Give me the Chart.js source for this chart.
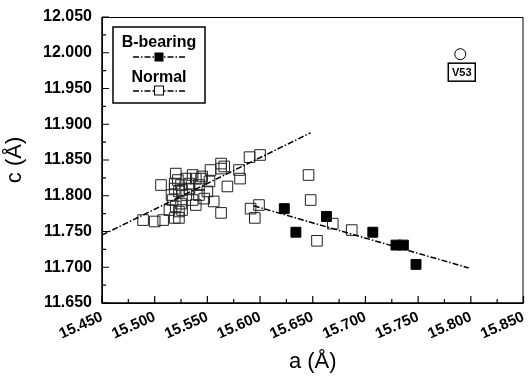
<!DOCTYPE html>
<html><head><meta charset="utf-8">
<script src="https://cdn.jsdelivr.net/npm/chart.js@4/dist/chart.umd.min.js"></script>
<style>html,body{margin:0;padding:0;background:#fff}#wrap{width:532px;height:385px}</style>
</head><body><div id="wrap"><canvas id="c" width="532" height="385"></canvas></div>
<script>
const normalA = [15.489,15.500,15.508,15.523,15.506,15.520,15.563,15.563,15.580,15.581,15.569,15.556,15.563,15.590,15.600,15.553,15.545,15.539,15.530,15.522,15.519,15.523,15.533,15.542,15.552,15.550,15.536,15.539,15.525,15.517,15.514,15.523,15.519,15.526,15.516,15.530,15.542,15.547,15.533,15.525,15.519,15.536,15.544,15.526,15.520,15.566,15.591,15.599,15.595,15.646,15.648,15.654,15.669,15.687];
const normalC = [11.766,11.764,11.766,11.769,11.815,11.831,11.845,11.838,11.836,11.824,11.813,11.792,11.776,11.854,11.857,11.836,11.827,11.824,11.824,11.822,11.810,11.806,11.810,11.815,11.820,11.806,11.794,11.787,11.789,11.794,11.780,11.778,11.769,11.808,11.801,11.801,11.801,11.796,11.817,11.815,11.817,11.829,11.824,11.780,11.785,11.841,11.782,11.787,11.769,11.829,11.794,11.737,11.761,11.752];
const bearingA = [15.623,15.634,15.663,15.707,15.729,15.736,15.748];
const bearingC = [11.782,11.749,11.771,11.749,11.731,11.731,11.704];
const v53A = [15.790];
const v53C = [11.998];
const normalFitA = [15.450, 15.648];
const normalFitC = [11.745, 11.888];
const bearingFitA = [15.594, 15.798];
const bearingFitC = [11.786, 11.699];
const xTickValues = [15.45,15.50,15.55,15.60,15.65,15.70,15.75,15.80,15.85];
const yTickValues = [11.65,11.70,11.75,11.80,11.85,11.90,11.95,12.00,12.05];
const seriesNames = ['B-bearing','Normal'];
const pointLabel = 'V53';

const pts = (A, C) => A.map((a, i) => ({x: a, y: C[i]}));
const FONT = "'Liberation Sans', Arial, sans-serif";
const DASH = [6, 2, 1.5, 2];

const decor = {
  id: 'decor',
  afterDraw(chart) {
    const {ctx, chartArea: ca, scales: {x, y}} = chart;
    ctx.save();
    ctx.strokeStyle = '#000';
    ctx.lineWidth = 1;
    ctx.strokeRect(ca.left + 0.5, ca.top + 0.5, ca.right - ca.left - 1, ca.bottom - ca.top);
    ctx.lineWidth = 1.5;
    ctx.beginPath();
    ctx.moveTo(ca.left, ca.top); ctx.lineTo(ca.left, ca.bottom); ctx.lineTo(ca.right, ca.bottom);
    ctx.stroke();
    ctx.lineWidth = 1.2;
    ctx.beginPath();
    xTickValues.forEach((v, i) => {
      const px = x.getPixelForValue(v);
      ctx.moveTo(px, ca.bottom); ctx.lineTo(px, ca.bottom - 7);
      if (i < xTickValues.length - 1) {
        const m = x.getPixelForValue((v + xTickValues[i + 1]) / 2);
        ctx.moveTo(m, ca.bottom); ctx.lineTo(m, ca.bottom - 4);
      }
    });
    yTickValues.forEach((v, i) => {
      const py = y.getPixelForValue(v);
      ctx.moveTo(ca.left, py); ctx.lineTo(ca.left + 7, py);
      if (i < yTickValues.length - 1) {
        const m = y.getPixelForValue((v + yTickValues[i + 1]) / 2);
        ctx.moveTo(ca.left, m); ctx.lineTo(ca.left + 4, m);
      }
    });
    ctx.stroke();

    const lx = ca.left + 11, ly = ca.top + 10, lw = 92, lh = 76;
    ctx.fillStyle = '#fff';
    ctx.fillRect(lx, ly, lw, lh);
    ctx.lineWidth = 1.5;
    ctx.strokeRect(lx, ly, lw, lh);
    const cx = lx + lw / 2;
    ctx.fillStyle = '#000';
    ctx.font = 'bold 16px ' + FONT;
    ctx.textAlign = 'center';
    ctx.textBaseline = 'middle';
    ctx.fillText(seriesNames[0], cx, ly + 16);
    ctx.fillText(seriesNames[1], cx, ly + 51);
    ctx.lineWidth = 1.3;
    ctx.setLineDash(DASH);
    ctx.beginPath();
    ctx.moveTo(cx - 26, ly + 30); ctx.lineTo(cx + 26, ly + 30);
    ctx.moveTo(cx - 26, ly + 64); ctx.lineTo(cx + 26, ly + 64);
    ctx.stroke();
    ctx.setLineDash([]);
    ctx.fillRect(cx - 4.5, ly + 25.5, 9, 9);
    ctx.fillStyle = '#fff';
    ctx.fillRect(cx - 4.5, ly + 59, 9, 9);
    ctx.lineWidth = 1;
    ctx.strokeRect(cx - 4.5, ly + 59, 9, 9);

    const vx = x.getPixelForValue(v53A[0]), vy = y.getPixelForValue(v53C[0]);
    ctx.lineWidth = 1.5;
    ctx.strokeRect(vx - 12, vy + 9, 27, 18);
    ctx.fillStyle = '#000';
    ctx.font = "bold 11px 'Liberation Sans Narrow', " + FONT;
    ctx.fillText(pointLabel, vx + 1.5, vy + 18.5);
    ctx.restore();
  }
};

new Chart(document.getElementById('c'), {
  type: 'scatter',
  data: {
    datasets: [
      {label: 'Normal fit', data: pts(normalFitA, normalFitC), showLine: true, pointRadius: 0,
       borderColor: '#000', borderWidth: 1.5, borderDash: DASH, fill: false},
      {label: 'B-bearing fit', data: pts(bearingFitA, bearingFitC), showLine: true, pointRadius: 0,
       borderColor: '#000', borderWidth: 1.5, borderDash: DASH, fill: false},
      {label: seriesNames[1], data: pts(normalA, normalC), pointStyle: 'rect', pointRadius: 7.5,
       borderColor: '#222', borderWidth: 1, backgroundColor: 'rgba(0,0,0,0)'},
      {label: seriesNames[0], data: pts(bearingA, bearingC), pointStyle: 'rect', pointRadius: 7,
       borderColor: '#000', borderWidth: 1, backgroundColor: '#000'},
      {label: pointLabel, data: pts(v53A, v53C), pointStyle: 'circle', pointRadius: 5.5,
       borderColor: '#000', borderWidth: 1, backgroundColor: 'rgba(0,0,0,0)'}
    ]
  },
  options: {
    responsive: false, animation: false,
    layout: {padding: {left: 0, right: 5, top: 17, bottom: 0}},
    plugins: {legend: {display: false}, tooltip: {enabled: false}},
    scales: {
      x: {
        type: 'linear', min: 15.45, max: 15.85,
        afterBuildTicks: s => { s.ticks = xTickValues.map(v => ({value: v})); },
        afterFit: s => { s.height = 82; s.paddingLeft = 0; s.paddingRight = 0; },
        grid: {display: false, drawTicks: false}, border: {display: false},
        ticks: {autoSkip: false, minRotation: 24, maxRotation: 24, padding: 5, color: '#000',
                font: {family: FONT, size: 15, weight: 'bold'}, callback: v => v.toFixed(3)},
        title: {display: true, text: 'a (Å)', color: '#000', font: {family: FONT, size: 22}, padding: {top: 0, bottom: 10}}
      },
      y: {
        type: 'linear', min: 11.65, max: 12.05,
        afterBuildTicks: s => { s.ticks = yTickValues.map(v => ({value: v})); },
        afterFit: s => { s.width = 102; s.paddingTop = 0; s.paddingBottom = 0; },
        grid: {display: false, drawTicks: false}, border: {display: false},
        ticks: {padding: 10, color: '#000', font: {family: FONT, size: 16, weight: 'bold'}, callback: v => v.toFixed(3)},
        title: {display: true, text: 'c (Å)', color: '#000', font: {family: FONT, size: 22}, padding: {top: 2, bottom: 0}}
      }
    }
  },
  plugins: [decor]
});
</script></body></html>
